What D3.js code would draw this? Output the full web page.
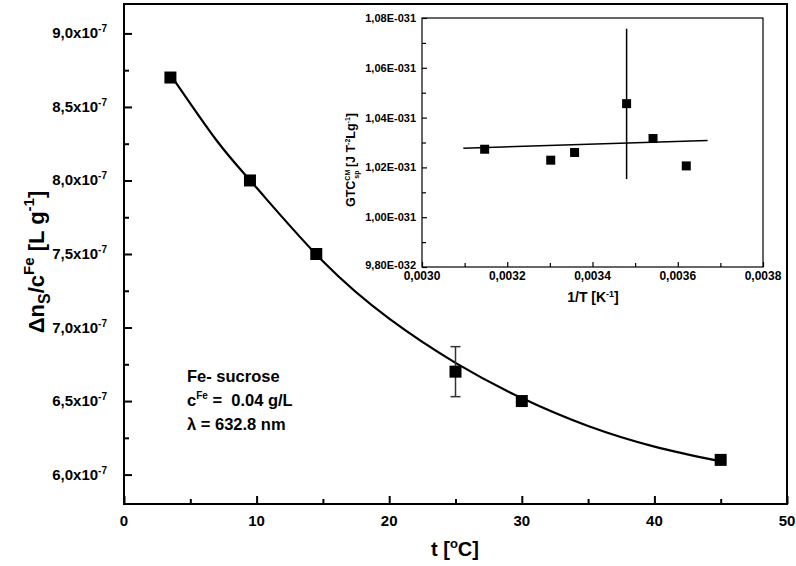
<!DOCTYPE html>
<html><head><meta charset="utf-8">
<script src="https://cdn.jsdelivr.net/npm/d3@7"></script>
<style>
body{margin:0;background:#fff;}
text{font-family:"Liberation Sans",Arial,sans-serif;font-weight:bold;fill:#000;white-space:pre;}
</style></head><body>
<svg id="c" width="796" height="566"></svg>
<script>
// main data
const tC = [3.5, 9.5, 14.5, 25, 30, 45];
const ratio = [8.70, 8.00, 7.50, 6.70, 6.50, 6.10]; // x1e-7 L/g
const errT = [25];
const errLo = [6.53];
const errHi = [6.87];
const fitT = [3.5, 7, 10, 15, 20, 25, 30, 35, 40, 45];
const fitV = [8.72, 8.27, 7.95, 7.45, 7.06, 6.76, 6.52, 6.33, 6.19, 6.09];
const xTicks = [0, 10, 20, 30, 40, 50];
const yTicks = [6.0, 6.5, 7.0, 7.5, 8.0, 8.5, 9.0];
const yTickLabels = ["6,0x10", "6,5x10", "7,0x10", "7,5x10", "8,0x10", "8,5x10", "9,0x10"];
// inset data
const invT = [0.003147, 0.003302, 0.003358, 0.003480, 0.003542, 0.003620];
const gtc = [1.0273, 1.0229, 1.0260, 1.0456, 1.0316, 1.0206]; // x1e-31
const inErrX = [0.003480];
const inErrLo = [1.0153];
const inErrHi = [1.0757];
const linX = [0.003097, 0.003670];
const linY = [1.0277, 1.0308];
const inXTicks = [0.0030, 0.0032, 0.0034, 0.0036, 0.0038];
const inXLabels = ["0,0030", "0,0032", "0,0034", "0,0036", "0,0038"];
const inYTicks = [0.98, 1.00, 1.02, 1.04, 1.06, 1.08];
const inYLabels = ["9,80E-032", "1,00E-031", "1,02E-031", "1,04E-031", "1,06E-031", "1,08E-031"];

const svg = d3.select("#c");

// ---------- main plot ----------
const x = d3.scaleLinear().domain([0, 50]).range([124, 787]);
const y = d3.scaleLinear().domain([5.8, 9.2]).range([504, 4]);

svg.append("rect").attr("x", x(0)).attr("y", y(9.2))
  .attr("width", x(50) - x(0)).attr("height", y(5.8) - y(9.2))
  .attr("fill", "none").attr("stroke", "#000").attr("stroke-width", 2);

const gx = svg.append("g").attr("transform", `translate(0,${y(5.8)})`)
  .call(d3.axisBottom(x).tickValues(d3.range(0, 51, 5)).tickSize(-8).tickFormat(""));
gx.select(".domain").remove();
gx.selectAll(".tick line").attr("stroke-width", 2)
  .attr("y2", d => (d % 10 === 0 ? -8 : -5));
svg.append("g").selectAll("text").data(xTicks).join("text")
  .attr("x", d => x(d)).attr("y", 526).attr("text-anchor", "middle")
  .style("font-size", "15px").text(d => d);

const gy = svg.append("g").attr("transform", `translate(${x(0)},0)`)
  .call(d3.axisLeft(y).tickValues(d3.range(6.0, 9.01, 0.25)).tickSize(-8).tickFormat(""));
gy.select(".domain").remove();
gy.selectAll(".tick line").attr("stroke-width", 2)
  .attr("x2", (d, i) => (i % 2 === 0 ? 8 : 5));
const yl = svg.append("g").selectAll("text").data(yTicks).join("text")
  .attr("x", 107).attr("y", d => y(d) + 5).attr("text-anchor", "end")
  .style("font-size", "15px");
yl.append("tspan").text((d, i) => yTickLabels[i]);
yl.append("tspan").attr("dy", -6).style("font-size", "10px").text("-7");

// fit curve
const line = d3.line().x(d => x(d[0])).y(d => y(d[1])).curve(d3.curveNatural);
svg.append("path").datum(d3.zip(fitT, fitV)).attr("d", line)
  .attr("fill", "none").attr("stroke", "#000").attr("stroke-width", 2.2);

errT.forEach((t, i) => {
  const g = svg.append("g").attr("stroke", "#333").attr("stroke-width", 1.5);
  g.append("line").attr("x1", x(t)).attr("x2", x(t)).attr("y1", y(errLo[i])).attr("y2", y(errHi[i]));
  g.append("line").attr("x1", x(t) - 5).attr("x2", x(t) + 5).attr("y1", y(errLo[i])).attr("y2", y(errLo[i]));
  g.append("line").attr("x1", x(t) - 5).attr("x2", x(t) + 5).attr("y1", y(errHi[i])).attr("y2", y(errHi[i]));
});

svg.append("g").selectAll("rect").data(d3.zip(tC, ratio)).join("rect")
  .attr("x", d => x(d[0]) - 6).attr("y", d => y(d[1]) - 6)
  .attr("width", 12).attr("height", 12).attr("fill", "#000");

// axis titles
const xt = svg.append("text").attr("x", 455).attr("y", 556).attr("text-anchor", "middle")
  .style("font-size", "20px");
xt.append("tspan").text("t [");
xt.append("tspan").attr("dy", -8).style("font-size", "13px").text("o");
xt.append("tspan").attr("dy", 8).text("C]");

const ytit = svg.append("text").attr("transform", "translate(44,262) rotate(-90)")
  .attr("text-anchor", "middle").style("font-size", "22px");
ytit.append("tspan").text("Δn");
ytit.append("tspan").attr("dy", 6).style("font-size", "16px").text("S");
ytit.append("tspan").attr("dy", -6).text("/c");
ytit.append("tspan").attr("dy", -10).style("font-size", "15px").text("Fe");
ytit.append("tspan").attr("dy", 10).text(" [L g");
ytit.append("tspan").attr("dy", -10).style("font-size", "15px").text("-1");
ytit.append("tspan").attr("dy", 10).text("]");

// annotation
const ann = svg.append("g").style("font-size", "16.5px");
ann.append("text").attr("x", 187).attr("y", 382).text("Fe- sucrose");
const a2 = ann.append("text").attr("x", 187).attr("y", 406);
a2.append("tspan").text("c");
a2.append("tspan").attr("dy", -7).style("font-size", "10px").text("Fe");
a2.append("tspan").attr("dy", 7).text(" =  0.04 g/L");
ann.append("text").attr("x", 187).attr("y", 430).text("λ = 632.8 nm");

// ---------- inset ----------
const ix = d3.scaleLinear().domain([0.0030, 0.0038]).range([422, 763]);
const iy = d3.scaleLinear().domain([0.98, 1.08]).range([267, 18]);

svg.append("rect").attr("x", ix(0.0030)).attr("y", iy(1.08))
  .attr("width", ix(0.0038) - ix(0.0030)).attr("height", iy(0.98) - iy(1.08))
  .attr("fill", "#fff").attr("stroke", "#000").attr("stroke-width", 1.2);

const igx = svg.append("g").attr("transform", `translate(0,${iy(0.98)})`)
  .call(d3.axisBottom(ix).tickValues(d3.range(0, 9).map(i => 0.0030 + i * 0.0001)).tickSize(-5).tickFormat(""));
igx.select(".domain").remove();
igx.selectAll(".tick line").attr("stroke-width", 1.2).attr("y2", (d, i) => (i % 2 === 0 ? -5 : -4));
svg.append("g").selectAll("text").data(inXTicks).join("text")
  .attr("x", d => ix(d)).attr("y", 280).attr("text-anchor", "middle")
  .style("font-size", "12px").text((d, i) => inXLabels[i]);

const igy = svg.append("g").attr("transform", `translate(${ix(0.0030)},0)`)
  .call(d3.axisLeft(iy).tickValues(d3.range(0, 11).map(i => 0.98 + i * 0.01)).tickSize(-5).tickFormat(""));
igy.select(".domain").remove();
igy.selectAll(".tick line").attr("stroke-width", 1.2).attr("x2", (d, i) => (i % 2 === 0 ? 5 : 4));
svg.append("g").selectAll("text").data(inYTicks).join("text")
  .attr("x", 416).attr("y", d => iy(d) + (d < 0.99 ? 2 : 4)).attr("text-anchor", "end")
  .style("font-size", "11px").text((d, i) => inYLabels[i]);

svg.append("line").attr("x1", ix(linX[0])).attr("y1", iy(linY[0]))
  .attr("x2", ix(linX[1])).attr("y2", iy(linY[1]))
  .attr("stroke", "#000").attr("stroke-width", 1.6);

inErrX.forEach((v, i) => {
  svg.append("line").attr("x1", ix(v)).attr("x2", ix(v))
    .attr("y1", iy(inErrLo[i])).attr("y2", iy(inErrHi[i]))
    .attr("stroke", "#000").attr("stroke-width", 1.5);
});

svg.append("g").selectAll("rect").data(d3.zip(invT, gtc)).join("rect")
  .attr("x", d => ix(d[0]) - 4.5).attr("y", d => iy(d[1]) - 4.5)
  .attr("width", 9).attr("height", 9).attr("fill", "#000");

svg.append("text").attr("x", 593).attr("y", 302).attr("text-anchor", "middle")
  .style("font-size", "14px")
  .call(t => { t.append("tspan").text("1/T [K");
               t.append("tspan").attr("dy", -5).style("font-size", "9px").text("-1");
               t.append("tspan").attr("dy", 5).text("]"); });

const iyt = svg.append("text").attr("transform", "translate(355,160) rotate(-90)")
  .attr("text-anchor", "middle").style("font-size", "12.5px");
iyt.append("tspan").text("GTC");
iyt.append("tspan").attr("dy", -5).style("font-size", "7px").text("CM");
iyt.append("tspan").attr("dx", -9).attr("dy", 9).style("font-size", "7px").text("sp");
iyt.append("tspan").attr("dy", -4).text(" [J T");
iyt.append("tspan").attr("dy", -5).style("font-size", "7px").text("-2");
iyt.append("tspan").attr("dy", 5).text("Lg");
iyt.append("tspan").attr("dy", -5).style("font-size", "7px").text("-1");
iyt.append("tspan").attr("dy", 5).text("]");
</script>
</body></html>
